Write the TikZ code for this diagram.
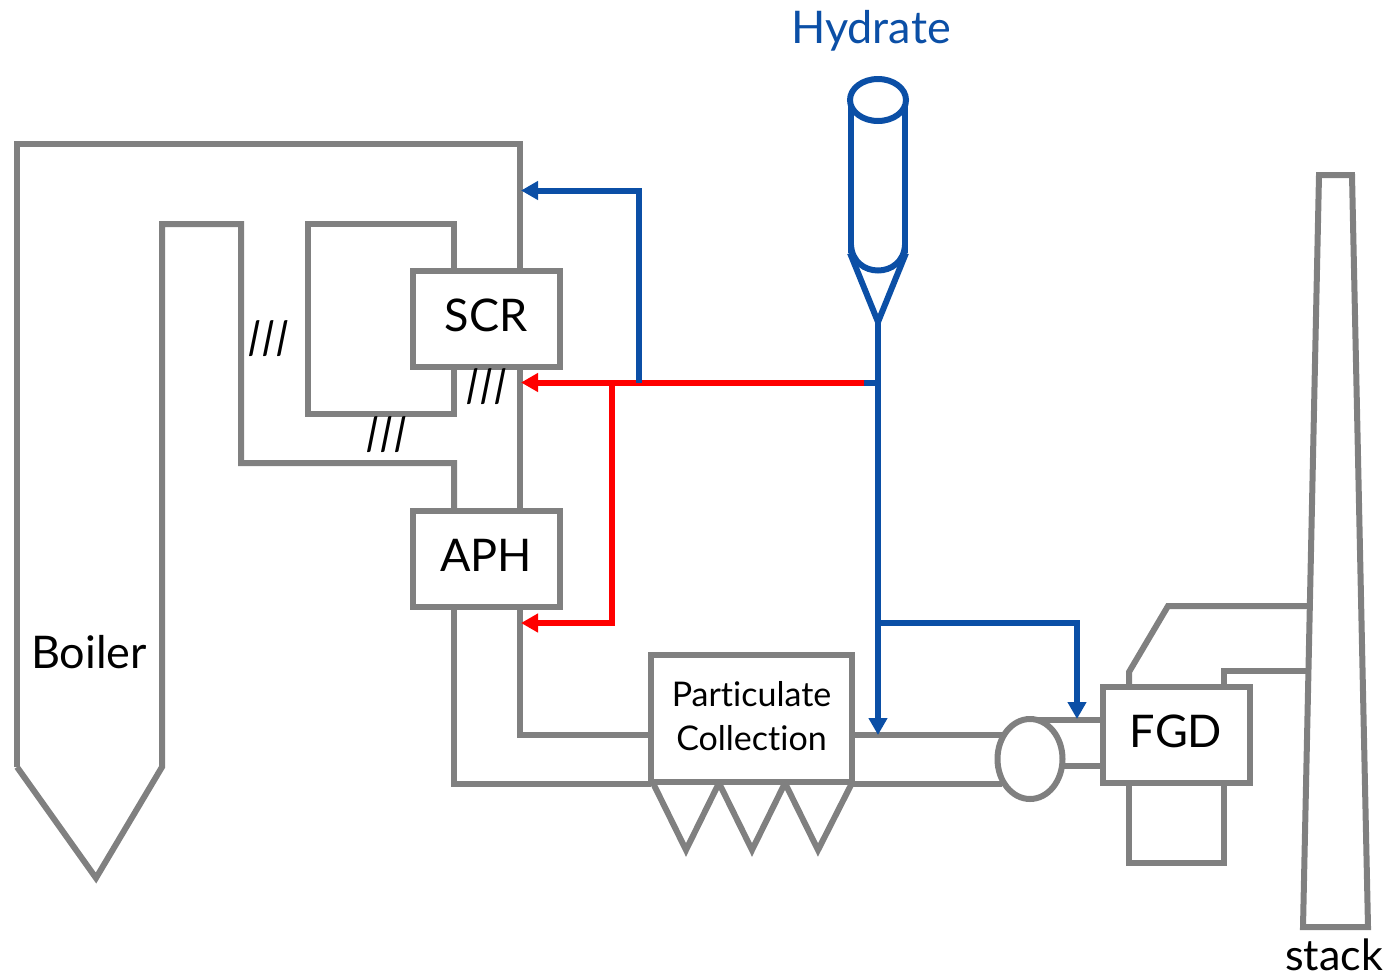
\documentclass[tikz,border=0pt]{standalone}
\usepackage{fontspec}
\setmainfont{Lato}[Ligatures=NoCommon]
\newfontface\steepface{Lato}[FakeSlant=-0.2]
\usetikzlibrary{arrows.meta,shapes.geometric}
\definecolor{pipegrey}{HTML}{808080}
\definecolor{hydblue}{HTML}{0B4FA6}
\newcommand{\slashes}{/\kern-7pt/\kern-7pt/}
\tikzset{
  pipe/.style={draw=pipegrey,line width=6pt,line join=miter,line cap=butt},
  unit/.style={draw=pipegrey,line width=6pt,fill=white,rectangle,inner sep=0pt,minimum width=146pt,minimum height=96pt,font=\fontsize{45}{50}\selectfont},
  blueline/.style={draw=hydblue,line width=6pt},
  redline/.style={draw=red,line width=6pt},
  tip/.style={-{Triangle[length=17pt,width=18pt]}},
  lbl/.style={inner sep=0pt,font=\fontsize{45}{50}\selectfont},
  hatch/.style={inner sep=0pt,font=\fontsize{46}{50}\selectfont\steepface}
}
\begin{document}
\begin{tikzpicture}[x=1pt,y=-1pt]
\useasboundingbox (0,0) rectangle (1395,978);
% free junctions
\coordinate (bTL) at (17,144);
\coordinate (bTR) at (520,144);
\coordinate (bL) at (17,767);
\coordinate (bTip) at (96,878);
\coordinate (bR) at (162,767);
\coordinate (drop) at (878,322);
\coordinate (j1) at (878,382.5);
\coordinate (j2) at (639,382.5);
\coordinate (j3) at (612,382.5);
\coordinate (j4) at (878,623);
\coordinate (tgt1) at (521,190.5);
\coordinate (tgt2) at (521,382.5);
\coordinate (tgt3) at (521,623);
\coordinate (tgt4) at (878,735);
\coordinate (tgt5) at (1077,719);
% grey ducts
\draw[pipe] (bL) -- (bTL) -- (bTR) -- (520,270);
\draw[pipe] (bL) -- (bTip) -- (bR) -- (162,224) -- (241,224) -- (241,463) -- (454,463) -- (454,510);
\draw[pipe] (454,270) -- (454,224) -- (308,224) -- (308,414) -- (454,414) -- (454,368);
\draw[pipe] (520,368) -- (520,510);
\draw[pipe] (520,607) -- (520,735) -- (651,735);
\draw[pipe] (454,607) -- (454,783.5) -- (651,783.5);
\draw[pipe] (852,735) -- (1002,735);
\draw[pipe] (852,783.5) -- (1002,783.5);
\draw[pipe] (1030,720) -- (1102,720);
\draw[pipe] (1060,766) -- (1102,766);
\draw[pipe] (653,783) -- (686,850) -- (719,783) -- (752,850) -- (785,783) -- (818,850) -- (852,783);
\draw[pipe] (1129,686) -- (1129,672) -- (1168,606) -- (1309,606);
\draw[pipe] (1223.5,686) -- (1223.5,671) -- (1307,671);
\draw[pipe] (1129,783) -- (1129,862.5) -- (1223.5,862.5) -- (1223.5,783);
\draw[pipe] (1303,927) -- (1319,175) -- (1352,175) -- (1368,927) -- cycle;
% units
\node[unit,minimum width=147pt] (scr) at (486.5,319) {};
\node[unit,minimum width=147pt] (aph) at (486.5,559) {};
\node[unit,minimum width=201pt,minimum height=127pt] (pc) at (751.5,718.5) {};
\node[unit,minimum width=147pt] (fgd) at (1176,735) {};
\node[draw=pipegrey,line width=6pt,fill=white,ellipse,inner sep=0pt,minimum width=65pt,minimum height=80pt] (fan) at (1030,759) {};
\node[lbl] at (486,315) {SCR};
\node[lbl] at (486,555) {APH};
\node[lbl] at (1176,731) {FGD};
\node[inner sep=0pt,align=center,font=\fontsize{34}{44}\selectfont] at (751.5,716) {Particulate\\Collection};
\node[lbl] (boiler) at (89,652) {Boiler};
\node[inner sep=0pt,font=\fontsize{43}{48}\selectfont] (stack) at (1334,955) {stack};
\node[lbl,text=hydblue] (hyd) at (871,31) {Hydrate};
\node[hatch] (h1) at (272,339) {\slashes};
\node[hatch] (h2) at (490,387) {\slashes};
\node[hatch] (h3) at (390,435) {\slashes};
% silo
\draw[blueline] (851,253) -- (851,100);
\draw[blueline] (905,253) -- (905,100);
\node[draw=hydblue,line width=6pt,fill=white,ellipse,inner sep=0pt,minimum width=56pt,minimum height=42pt] (silo) at (878,100) {};
\draw[blueline] (851,245) .. controls (853,279) and (903,279) .. (905,245);
\draw[blueline,line join=miter] (850,253) -- (drop) -- (906,253);
% injection lines
\draw[redline,tip] (j1) -- (tgt2);
\draw[redline,tip] (j3) -- (612,623) -- (tgt3);
\draw[blueline] (j1) -- (864,382.5);
\draw[blueline,tip] (drop) -- (tgt4);
\draw[blueline,tip] (j2) -- (639,190.5) -- (tgt1);
\draw[blueline,tip] (j4) -- (1077,623) -- (tgt5);
\end{tikzpicture}
\end{document}
